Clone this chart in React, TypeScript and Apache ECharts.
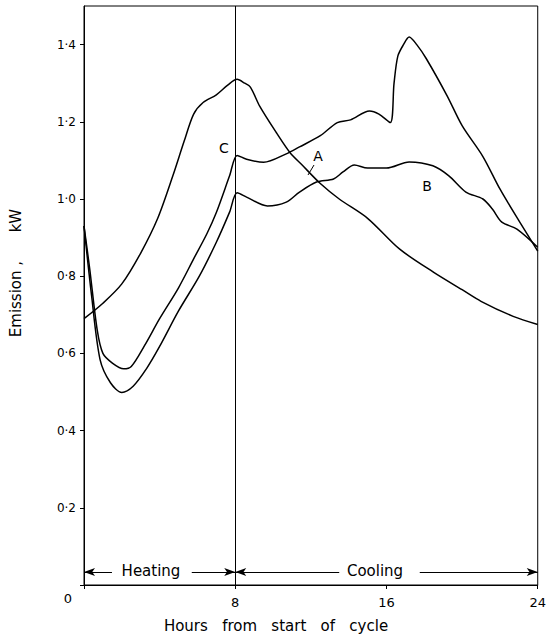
import React, { useEffect, useRef } from "react";
import * as echarts from "echarts";

// Curve C
const hoursC = [0, 1, 2, 3, 3.9, 4.7, 5.3, 5.8, 6.3, 7.0, 7.6, 8.1, 8.5, 8.8, 9.3, 10.2, 10.9, 11.5, 12.5, 13.5, 15.0, 16.7, 18.5, 20.0, 21.0, 22.7, 24];
const valuesC = [0.69, 0.73, 0.78, 0.86, 0.95, 1.06, 1.15, 1.22, 1.25, 1.27, 1.295, 1.31, 1.3, 1.29, 1.24, 1.17, 1.12, 1.09, 1.04, 1.0, 0.95, 0.87, 0.81, 0.765, 0.735, 0.696, 0.675];
// Curve A
const hoursA = [0, 0.3, 0.7, 1.0, 1.5, 2.1, 2.5, 3.2, 4.0, 5.0, 5.8, 6.5, 7.0, 7.7, 8.1, 8.6, 9.5, 10.7, 11.4, 12.5, 13.4, 14.1, 15.1, 15.6, 16.2, 16.4, 16.6, 16.9, 17.2, 17.6, 18.1, 19.2, 20.0, 21.1, 22.0, 23.05, 24];
const valuesA = [0.93, 0.82, 0.66, 0.6, 0.575, 0.56, 0.566, 0.62, 0.69, 0.77, 0.845, 0.91, 0.965, 1.06, 1.113, 1.103, 1.095, 1.117, 1.135, 1.164, 1.198, 1.205, 1.228, 1.22, 1.198, 1.3, 1.37, 1.4, 1.42, 1.4, 1.364, 1.268, 1.19, 1.11, 1.026, 0.94, 0.865];
// Curve B
const hoursB = [0, 0.4, 0.85, 1.4, 2.0, 2.6, 3.3, 4.0, 5.0, 6.1, 7.0, 7.7, 8.1, 8.6, 9.7, 10.7, 11.4, 12.3, 13.2, 13.7, 14.3, 15.0, 16.0, 17.2, 18.45, 19.3, 20.2, 21.1, 21.6, 22.1, 22.9, 24];
const valuesB = [0.93, 0.75, 0.584, 0.524, 0.499, 0.515, 0.56, 0.618, 0.71, 0.8, 0.888, 0.966, 1.016, 1.005, 0.982, 0.992, 1.018, 1.044, 1.052, 1.07, 1.088, 1.08, 1.08, 1.096, 1.086, 1.06, 1.018, 1.0, 0.974, 0.94, 0.922, 0.875];

const yTicks = [0, 0.2, 0.4, 0.6, 0.8, 1.0, 1.2, 1.4];
const yLabels = [0.2, 0.4, 0.6, 0.8, 1.0, 1.2, 1.4];
const phaseY = 0.034;
const heating = { start: 0, gapStart: 1.48, gapEnd: 5.7, end: 8 };
const cooling = { start: 8, gapStart: 13.5, gapEnd: 17.76, end: 24 };

const FONT = "DejaVu Sans";

function pairs(h: number[], v: number[]) {
  return h.map((x, i) => [x, v[i]]);
}

function arrowSeg(a: number, b: number, arrowAtStart: boolean) {
  return [
    { coord: [a, phaseY], symbol: arrowAtStart ? "arrow" : "none", symbolSize: [6, 11] },
    { coord: [b, phaseY], symbol: arrowAtStart ? "none" : "arrow", symbolSize: [6, 11] },
  ];
}

export default function App() {
  const ref = useRef<HTMLDivElement>(null);
  useEffect(() => {
    document.body.style.margin = "0";
    const chart = echarts.init(ref.current!, undefined, { renderer: "svg" });
    const lineStyle = { color: "#000", width: 1.5 };
    const text = (t: string, x: number, y: number, size = 14, extra: any = {}) => ({
      type: "text",
      x,
      y,
      ...extra,
      style: { text: t, font: `${size}px ${FONT}`, fill: "#000", align: "center", verticalAlign: "middle" },
    });
    chart.setOption({
      animation: false,
      grid: { left: 84, right: 11, top: 6, bottom: 51, show: true, borderColor: "#000", borderWidth: 1 },
      xAxis: {
        type: "value",
        min: 0,
        max: 24,
        interval: 8,
        axisLine: { lineStyle: { color: "#000" } },
        axisTick: { show: true, length: 4, lineStyle: { color: "#000" } },
        splitLine: { show: false },
        axisLabel: {
          color: "#000",
          fontSize: 13,
          fontFamily: FONT,
          margin: 11,
          formatter: (v: number) => (v === 0 ? "" : String(v)),
        },
      },
      yAxis: {
        type: "value",
        min: 0,
        max: 1.5,
        interval: 0.2,
        axisLine: { lineStyle: { color: "#000" } },
        axisTick: { show: true, length: 4, lineStyle: { color: "#000" }, customValues: yTicks },
        splitLine: { show: false },
        axisLabel: {
          color: "#000",
          fontSize: 12,
          fontFamily: FONT,
          margin: 8,
          customValues: yLabels,
          formatter: (v: number) => v.toFixed(1).replace(".", "·"),
        },
      },
      series: [
        {
          type: "line",
          name: "C",
          data: pairs(hoursC, valuesC),
          showSymbol: false,
          smooth: 0.3,
          lineStyle,
        },
        {
          type: "line",
          name: "A",
          data: pairs(hoursA, valuesA),
          showSymbol: false,
          smooth: 0.3,
          lineStyle,
        },
        {
          type: "line",
          name: "B",
          data: pairs(hoursB, valuesB),
          showSymbol: false,
          smooth: 0.3,
          lineStyle,
          markLine: {
            silent: true,
            label: { show: false },
            lineStyle: { color: "#000", width: 1, type: "solid" },
            data: [
              [
                { coord: [8, 0], symbol: "none" },
                { coord: [8, 1.5], symbol: "none" },
              ],
              arrowSeg(heating.start, heating.gapStart, true),
              arrowSeg(heating.gapEnd, heating.end, false),
              arrowSeg(cooling.start, cooling.gapStart, true),
              arrowSeg(cooling.gapEnd, cooling.end, false),
            ],
          },
        },
      ],
      graphic: [
        text("0", 68, 598, 13),
        text("Hours   from   start   of   cycle", 276, 626, 15),
        text("Emission ,      kW", 16, 273, 15, { rotation: Math.PI / 2 }),
        text("Heating", 151, 571, 15),
        text("Cooling", 375, 571, 15),
        text("C", 224, 148, 14),
        text("A", 318, 156, 14),
        text("B", 427, 186, 14),
        {
          type: "line",
          shape: { x1: 314, y1: 165, x2: 308, y2: 175 },
          style: { stroke: "#000", lineWidth: 1 },
        },
      ],
    });
    return () => chart.dispose();
  }, []);
  return <div ref={ref} style={{ width: 549, height: 636, background: "#fff" }} />;
}
